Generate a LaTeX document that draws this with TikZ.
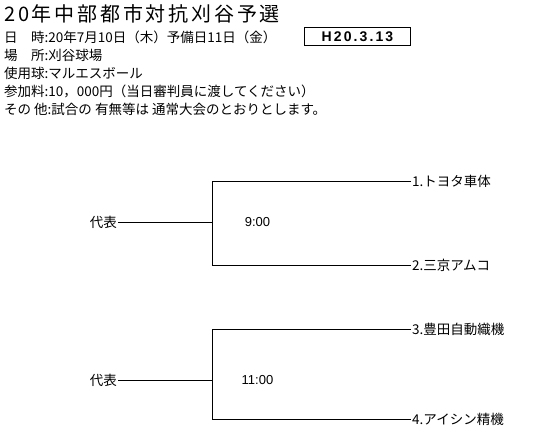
\documentclass[tikz,border=0pt]{standalone}
\usepackage{fontspec}
\setmainfont{Noto Sans CJK JP}
\newfontfamily\titlefont[LetterSpace=14]{Noto Sans CJK JP}
\newfontfamily\boxfont[LetterSpace=15]{Liberation Sans}
\newfontfamily\numfont{Liberation Sans}
\tikzset{
  hdr/.style={anchor=west, inner sep=0pt, font=\fontsize{13.5}{16}\selectfont},
  lbl/.style={inner sep=1pt, font=\fontsize{13.5}{16}\selectfont},
  tm/.style={inner sep=0pt, font=\numfont\fontsize{13}{15}\selectfont},
  br/.style={line width=0.8pt, black},
}
\begin{document}
\begin{tikzpicture}[x=1pt,y=-1pt]
\useasboundingbox (0,0) rectangle (536,445);
\node[anchor=west, inner sep=0pt, font=\titlefont\fontsize{20}{24}\selectfont] (title) at (4,14) {20年中部都市対抗刈谷予選};
\node[hdr] (l1) at (4,37) {日　時:20年7月10日（木）予備日11日（金）};
\node[hdr] (l2) at (4,55) {場　所:刈谷球場};
\node[hdr] (l3) at (4,73) {使用球:マルエスボール};
\node[hdr] (l4) at (4,91) {参加料:10，000円（当日審判員に渡してください）};
\node[hdr] (l5) at (4,109) {その 他:試合の 有無等は 通常大会のとおりとします。};
\node[draw, line width=1.6pt, minimum width=106, minimum height=18, inner sep=0pt,
      font=\boxfont\bfseries\fontsize{14}{16}\selectfont] (date) at (357.5,36.5) {H20.3.13};
% bracket 1
\node[lbl, anchor=east] (rep1) at (118,222) {代表};
\coordinate (j1) at (212,222);
\coordinate (t1) at (212,181);
\coordinate (b1) at (212,265);
\node[lbl, anchor=west] (team1) at (411,181) {1.トヨタ車体};
\node[lbl, anchor=west] (team2) at (411,265) {2.三京アムコ};
\node[tm] (time1) at (257.5,222) {9:00};
\draw[br] (rep1.east) -- (j1);
\draw[br] (team1.west) -- (t1) -- (b1) -- (team2.west);
% bracket 2
\node[lbl, anchor=east] (rep2) at (118,380) {代表};
\coordinate (j2) at (212,380);
\coordinate (t2) at (212,329);
\coordinate (b2) at (212,419);
\node[lbl, anchor=west] (team3) at (411,329) {3.豊田自動織機};
\node[lbl, anchor=west] (team4) at (411,419) {4.アイシン精機};
\node[tm] (time2) at (257.5,380) {11:00};
\draw[br] (rep2.east) -- (j2);
\draw[br] (team3.west) -- (t2) -- (b2) -- (team4.west);
\end{tikzpicture}
\end{document}
